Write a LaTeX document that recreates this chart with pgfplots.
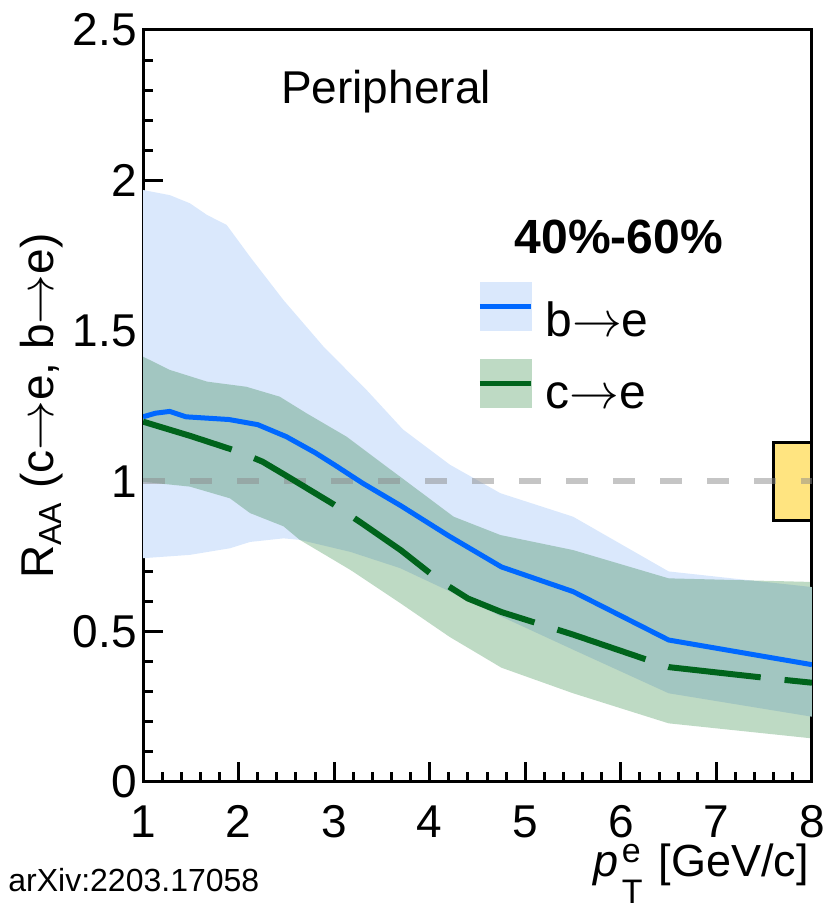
\documentclass[border=0pt]{standalone}
\usepackage{pgfplots}
\pgfplotsset{compat=1.18}
\usepgfplotslibrary{fillbetween}
\usepackage{fontspec}
\setmainfont{Liberation Sans}

\definecolor{bandblue}{RGB}{218,232,252}
\definecolor{bandgreen}{RGB}{190,218,196}
\definecolor{lineblue}{RGB}{0,104,255}
\definecolor{linegreen}{RGB}{0,100,28}
\definecolor{normbox}{RGB}{255,228,128}
\definecolor{unity}{RGB}{140,140,140}

\begin{document}
\begin{tikzpicture}
\begin{axis}[
  at={(0pt,0pt)}, anchor=south west,
  scale only axis, width=334.5pt, height=376pt,
  xmin=1, xmax=8, ymin=0, ymax=2.5,
  xtick={1,2,3,4,5,6,7,8}, xticklabels={1,2,3,4,5,6,7,8},
  ytick={0,0.5,1,1.5,2,2.5}, yticklabels={0,0.5,1,1.5,2,2.5},
  minor x tick num=4, minor y tick num=4,
  tick align=inside, tick pos=left,
  major tick length=10pt, minor tick length=5pt,
  axis line style={line width=1.5pt},
  tick style={black, line width=1.5pt},
  tick label style={font=\fontsize{23}{27}\selectfont},
  xticklabel style={inner ysep=0pt, yshift=-11.5pt},
  yticklabel style={xshift=0.5pt},
  /pgf/number format/assume math mode=true,
  legend cell align=left,
  legend style={at={(0.4993,0.6648)}, anchor=north west, draw=none, fill=none,
    inner sep=0pt, row sep=11pt, font=\fontsize{24}{28}\selectfont,
    nodes={inner sep=0pt, text depth=0pt},
    /tikz/every odd column/.append style={column sep=6pt}},
]

% b -> e uncertainty band
\addplot[name path=bu, draw=none, forget plot] coordinates {
  (1,1.968) (1.28,1.951) (1.49,1.924) (1.67,1.885) (1.875,1.852) (2.12,1.746)
  (2.47,1.602) (2.89,1.447) (3.34,1.303) (3.72,1.172) (4.21,1.055) (4.74,0.960)
  (5.5,0.882) (6.5,0.700) (8,0.648)};
\addplot[name path=bl, draw=none, forget plot] coordinates {
  (1,0.744) (1.49,0.755) (1.91,0.777) (2.12,0.798) (2.47,0.810) (2.64,0.805)
  (3.17,0.765) (3.69,0.711) (4.2,0.635) (4.75,0.550) (5.5,0.440) (6.5,0.295)
  (8,0.217)};
\addplot[fill=bandblue, draw=none, forget plot] fill between[of=bu and bl];

% c -> e uncertainty band
\addplot[name path=gu, draw=none, forget plot] coordinates {
  (1,1.414) (1.28,1.370) (1.67,1.331) (2.08,1.314) (2.43,1.281) (2.71,1.226)
  (3.13,1.148) (3.55,1.048) (3.69,1.015) (4.25,0.882) (4.74,0.821) (5.5,0.771)
  (6.5,0.677) (8,0.665)};
\addplot[name path=gl, draw=none, forget plot] coordinates {
  (1,0.998) (1.49,0.982) (1.91,0.943) (2.12,0.894) (2.47,0.850) (2.64,0.805)
  (3.17,0.705) (3.69,0.595) (4.21,0.482) (4.56,0.416) (4.75,0.380) (5.5,0.295)
  (6.5,0.195) (8,0.145)};
\addplot[fill=bandgreen, draw=none, blend mode=multiply, forget plot] fill between[of=gu and gl];

% normalisation uncertainty
\addplot[fill=normbox, draw=black, line width=1.5pt, forget plot]
  coordinates {(7.6,0.87) (8,0.87) (8,1.13) (7.6,1.13)} --cycle;

% unity
\addplot[draw=unity, draw opacity=0.5, line width=3pt, dash pattern=on 11pt off 12.5pt, forget plot]
  coordinates {(1,1) (8,1)};

% b -> e
\addplot[draw=lineblue, line width=2.5pt, line join=round, forget plot] coordinates {
  (1,1.214) (1.13,1.226) (1.28,1.232) (1.45,1.214) (1.6,1.211) (1.9,1.205)
  (2.2,1.188) (2.5,1.148) (2.8,1.095) (3.0,1.055) (3.3,0.993) (3.7,0.918)
  (4.2,0.818) (4.75,0.715) (5.5,0.633) (6.5,0.472) (8,0.390)};

% c -> e
\addplot[draw=linegreen, line width=3pt, line join=round, dash pattern=on 46.5pt off 12pt, forget plot] coordinates {
  (1,1.198) (1.5,1.150) (2.0,1.098) (2.25,1.065) (2.5,1.018) (3.0,0.922)
  (3.3,0.858) (3.7,0.770) (4.1,0.670) (4.4,0.610) (4.75,0.565) (5.5,0.490)
  (6.5,0.382) (7.6,0.343) (8,0.330)};

\addlegendimage{legend image code/.code={
  \fill[bandblue] (0pt,-5.8pt) rectangle (25.5pt,18.2pt);
  \draw[lineblue, line width=2.5pt] (0pt,6.2pt) -- (25.5pt,6.2pt);}}
\addlegendentry{b$\rightarrow$e}
\addlegendimage{legend image code/.code={
  \fill[bandgreen] (0pt,-5.8pt) rectangle (25.5pt,18.2pt);
  \draw[linegreen, line width=2.5pt] (0pt,6.2pt) -- (25.5pt,6.2pt);}}
\addlegendentry{c$\rightarrow$e}

\node[font=\fontsize{23}{27}\selectfont] at (axis cs:3.543,2.294) {Peripheral};
\node[font=\bfseries\fontsize{24}{29}\selectfont] at (axis cs:5.98,1.812) {40\%-60\%};
\end{axis}
% axis titles and source note, placed around the axis box (lower-left corner at the origin)
\node[rotate=90, font=\fontsize{23}{27}\selectfont] at (-50.5pt,188pt)
  {R$_{\mbox{\fontsize{16}{16}\selectfont AA}}$ (c$\rightarrow$e, b$\rightarrow$e)};
\node[anchor=base east, inner sep=0pt, font=\fontsize{22.5}{27}\selectfont] at (333pt,-47.5pt)
  {\textit{p}\hspace{1.5pt}\rlap{\raisebox{7pt}{\fontsize{17}{17}\selectfont e}}\raisebox{-13pt}{\fontsize{17}{17}\selectfont T}\hspace{8pt}[GeV/c]};
\node[anchor=base west, inner sep=0pt, font=\fontsize{16}{19}\selectfont] at (-67.5pt,-55pt)
  {arXiv:2203.17058};
% fixed page frame around the axis box
\pgfresetboundingbox
\useasboundingbox (-71.5pt,-65.5pt) rectangle (342pt,391pt);
\end{tikzpicture}
\end{document}
